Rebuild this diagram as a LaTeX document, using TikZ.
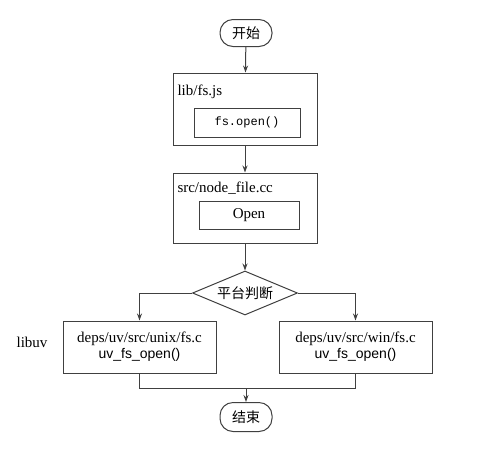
\documentclass[tikz,border=0pt]{standalone}
\usepackage{fontspec}
\setmainfont{Liberation Serif}
\setmonofont{Liberation Mono}
\newfontfamily\cjk{Noto Sans CJK SC}
\newfontfamily\uvfont{Liberation Sans}
\usetikzlibrary{shapes.geometric,arrows.meta}

\begin{document}
\begin{tikzpicture}[x=1pt,y=-1pt,
    every node/.style={draw=black!75,line width=1pt,inner sep=0pt,font=\fontsize{15}{16}\selectfont},
    term/.style={rounded corners=13pt,minimum width=52pt,minimum height=27pt,font=\fontsize{14}{16}\cjk},
    box/.style={rectangle},
    plain/.style={draw=none},
    arr/.style={draw=black!75,line width=1pt,-{Stealth[length=7pt,width=5pt]}},
    lin/.style={draw=black!75,line width=1pt}]
            \useasboundingbox (0,0) rectangle (485,451);
            \node[term] (start) at (246,33) {开始};

            \node[box,minimum width=144pt,minimum height=72pt] (js) at (245,109) {};
            \node[plain,anchor=west] (jslabel) at (177,92) {lib/fs.js};
            \node[box,minimum width=106pt,minimum height=29pt,font=\fontsize{12}{14}\ttfamily] (jsopen) at (247,122.5) {fs.open()};

            \node[box,minimum width=144pt,minimum height=70pt] (cc) at (245,208) {};
            \node[plain,anchor=west] (cclabel) at (177,188) {src/node\_file.cc};
            \node[box,minimum width=100pt,minimum height=28pt] (ccopen) at (249,215) {Open};

            \node[diamond,aspect=2.4,minimum width=105pt,minimum height=44pt,font=\fontsize{14}{16}\cjk] (os) at (245,293) {平台判断};

            \node[plain] (libuv) at (32,342) {libuv};
            \node[box,minimum width=153pt,minimum height=52pt,align=center] (unix) at (139.5,347)
                {deps/uv/src/unix/fs.c\\{\uvfont\fontsize{14}{16}\selectfont uv\_fs\_open()}};
            \node[box,minimum width=153pt,minimum height=52pt,align=center] (win) at (355.5,347)
                {deps/uv/src/win/fs.c\\{\uvfont\fontsize{14}{16}\selectfont uv\_fs\_open()}};

            \node[term,minimum height=29pt] (end) at (246,417) {结束};
            \coordinate (merge) at (246,388);

            \path (start) edge[arr] (js);
            \path (js) edge[arr] (cc);
            \path (cc) edge[arr] (os);
            \draw [arr] (os.west) -| (unix.north);
            \draw [arr] (os.east) -| (win.north);
            \draw [lin] (unix.south) |- (merge);
            \draw [lin] (win.south) |- (merge);
            \path (merge) edge[arr] (end);
        \end{tikzpicture}
\end{document}
